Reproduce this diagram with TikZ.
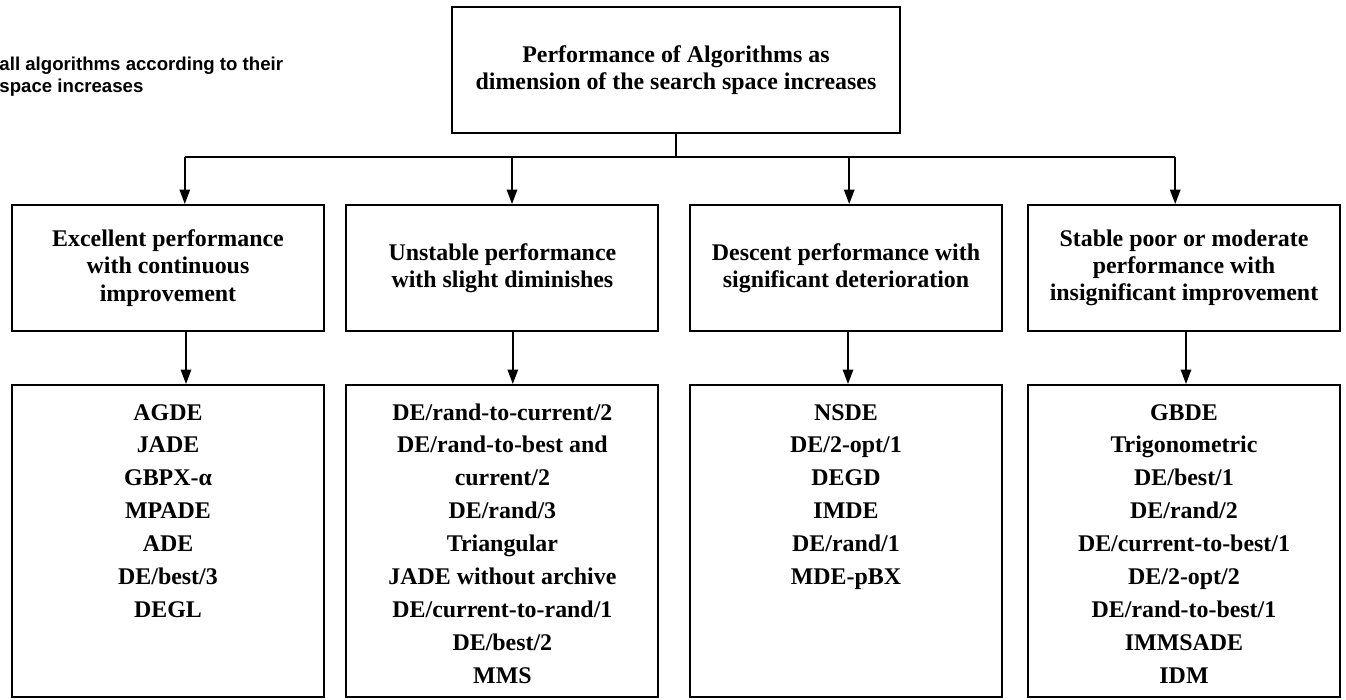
\documentclass[tikz,border=0pt]{standalone}
\usepackage{fontspec}
\setmainfont{Liberation Serif}
\newfontfamily\captionfont{Liberation Sans}
\usetikzlibrary{positioning,arrows.meta}

\begin{document}
\begin{tikzpicture}[
headbox/.style={rectangle, draw=black, line width=1.4pt, minimum width=11.2cm, minimum height=3.15cm, align=center, font=\bfseries\fontsize{17}{19.2}\selectfont},
classbox/.style={rectangle, draw=black, line width=1.4pt, minimum width=7.8cm, minimum height=3.15cm, align=center, font=\bfseries\fontsize{17}{19.4}\selectfont},
listbox/.style={rectangle, draw=black, line width=1.4pt, minimum width=7.8cm, minimum height=7.8cm},
listtext/.style={inner sep=0pt, align=center, font=\bfseries\fontsize{17}{23.4}\selectfont},
arr/.style={line width=1.2pt, -{Triangle[length=0.36cm, width=0.26cm]}},
]
\useasboundingbox (0,0) rectangle (33.65,-17.5);

%Caption
\node[inner sep=0pt, anchor=north west, align=left, font=\captionfont\bfseries\fontsize{13.25}{15.6}\selectfont] (cap) at (-0.02,-1.42) {all algorithms according to their\\space increases};

%Nodes
\node[headbox]       (top)     at (16.9,-1.75) {Performance of Algorithms as\\dimension of the search space increases};
\node[classbox]      (c1)      at (4.2,-6.7) {Excellent performance\\with continuous\\improvement};
\node[classbox]      (c2)      at (12.56,-6.7) {Unstable performance\\with slight diminishes};
\node[classbox]      (c3)      at (21.15,-6.7) {Descent performance with\\significant deterioration};
\node[classbox]      (c4)      at (29.6,-6.7) {Stable poor or moderate\\performance with\\insignificant improvement};

\node[listbox]       (b1)      [below=1.3cm of c1] {};
\node[listbox]       (b2)      [below=1.3cm of c2] {};
\node[listbox]       (b3)      [below=1.3cm of c3] {};
\node[listbox]       (b4)      [below=1.3cm of c4] {};

\node[listtext]      (t1)      [below=0.5cm of b1.north] {AGDE\\JADE\\GBPX-α\\MPADE\\ADE\\DE/best/3\\DEGL};
\node[listtext]      (t2)      [below=0.48cm of b2.north] {DE/rand-to-current/2\\DE/rand-to-best and\\current/2\\DE/rand/3\\Triangular\\JADE without archive\\DE/current-to-rand/1\\DE/best/2\\MMS};
\node[listtext]      (t3)      [below=0.5cm of b3.north] {NSDE\\DE/2-opt/1\\DEGD\\IMDE\\DE/rand/1\\MDE-pBX};
\node[listtext]      (t4)      [below=0.5cm of b4.north] {GBDE\\Trigonometric\\DE/best/1\\DE/rand/2\\DE/current-to-best/1\\DE/2-opt/2\\DE/rand-to-best/1\\IMMSADE\\IDM};

%Bus
\coordinate (j1) at (4.62,-3.93);
\coordinate (j2) at (12.8,-3.93);
\coordinate (j3) at (21.23,-3.93);
\coordinate (j4) at (29.38,-3.93);

%Lines
\draw[line width=1.2pt] (top.south) -- (top.south |- j1);
\draw[line width=1.2pt] (j1) -- (j4);
\draw[arr] (j1) -- (j1 |- c1.north);
\draw[arr] (j2) -- (j2 |- c2.north);
\draw[arr] (j3) -- (j3 |- c3.north);
\draw[arr] (j4) -- (j4 |- c4.north);
\draw[arr] ([xshift=0.45cm]c1.south) -- ([xshift=0.45cm]b1.north);
\draw[arr] ([xshift=0.26cm]c2.south) -- ([xshift=0.26cm]b2.north);
\draw[arr] ([xshift=0.05cm]c3.south) -- ([xshift=0.05cm]b3.north);
\draw[arr] ([xshift=0.05cm]c4.south) -- ([xshift=0.05cm]b4.north);
\end{tikzpicture}
\end{document}
